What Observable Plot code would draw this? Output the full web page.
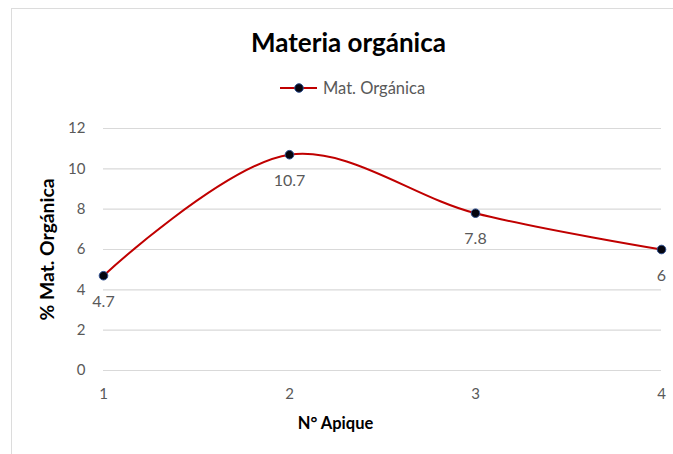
<!DOCTYPE html>
<html>
<head>
<meta charset="utf-8">
<script src="https://cdn.jsdelivr.net/npm/d3@7"></script>
<script src="https://cdn.jsdelivr.net/npm/@observablehq/plot@0.6"></script>
<style>
  html, body { margin: 0; padding: 0; background: #fff; }
  #chart { position: relative; width: 673px; height: 454px; overflow: hidden; font-family: Lato, "Open Sans", sans-serif; }
  #frame { position: absolute; left: 11px; top: 8px; right: -4px; bottom: -4px; border-left: 1.5px solid #dcdcdc; border-top: 1.5px solid #dcdcdc; }
  #title { position: absolute; left: 0; top: 26px; width: 697px; text-align: center; font-size: 26px; font-weight: 700; color: #000; line-height: 32px; }
  #legend { position: absolute; left: 280px; top: 78px; display: flex; align-items: center; gap: 6px; font-size: 16.5px; line-height: 20px; color: #595959; }
  #plot { position: absolute; left: 0; top: 110px; }
</style>
</head>
<body>
<div id="chart">
  <div id="frame"></div>
  <div id="title">Materia orgánica</div>
  <div id="legend">
    <svg width="37" height="12"><line x1="0" x2="37" y1="6" y2="6" stroke="#c00000" stroke-width="2"/><circle cx="19" cy="6" r="4.3" fill="#05050f" stroke="#2f4f8f" stroke-width="1"/></svg>
    <span>Mat. Orgánica</span>
  </div>
  <div id="plot"></div>
</div>
<script>
// Organic matter (%) at each sampling pit
const apiques = [1, 2, 3, 4];
const materiaOrganica = [4.7, 10.7, 7.8, 6];
const yTicks = [0, 2, 4, 6, 8, 10, 12];
const yLabel = "% Mat. Orgánica";
const xLabel = "N° Apique";

const data = apiques.map((a, i) => ({apique: a, mo: materiaOrganica[i]}));

const chart = Plot.plot({
  width: 673,
  height: 344,
  marginLeft: 103,
  marginRight: 12,
  marginTop: 18,
  marginBottom: 84,
  style: {fontFamily: "Lato, 'Open Sans', sans-serif", fontSize: "16px", color: "#595959", background: "transparent"},
  x: {domain: [1, 4]},
  y: {domain: [0, 12]},
  marks: [
    Plot.gridY(yTicks, {stroke: "#d9d9d9", strokeOpacity: 1, strokeWidth: 1.2}),
    Plot.axisX(apiques, {tickSize: 0, tickPadding: 18, tickFormat: d => String(d), label: null, fill: "#595959", fontSize: 15}),
    Plot.axisY(yTicks, {tickSize: 0, tickPadding: 18, tickFormat: d => String(d), label: null, fill: "#595959", fontSize: 15}),
    Plot.text([xLabel], {frameAnchor: "bottom", dx: -47, dy: 58, fontWeight: 700, fontSize: 16.5, fill: "#000"}),
    Plot.text([yLabel], {frameAnchor: "left", textAnchor: "middle", dx: -55, rotate: -90, fontWeight: 700, fontSize: 18, fill: "#000"}),
    Plot.line(data, {x: "apique", y: "mo", curve: "catmull-rom", stroke: "#c00000", strokeWidth: 2}),
    Plot.dot(data, {x: "apique", y: "mo", r: 4.3, fill: "#05050f", stroke: "#2f4f8f", strokeWidth: 1}),
    Plot.text(data, {x: "apique", y: "mo", text: d => String(d.mo), dy: 26, fill: "#595959", fontSize: 16})
  ]
});

// Stretch the rotated y-axis title along its length
for (const t of chart.querySelectorAll("text")) {
  if (t.textContent === yLabel) {
    t.setAttribute("textLength", 142);
    t.setAttribute("lengthAdjust", "spacingAndGlyphs");
  }
}
document.getElementById("plot").appendChild(chart);
</script>
</body>
</html>
